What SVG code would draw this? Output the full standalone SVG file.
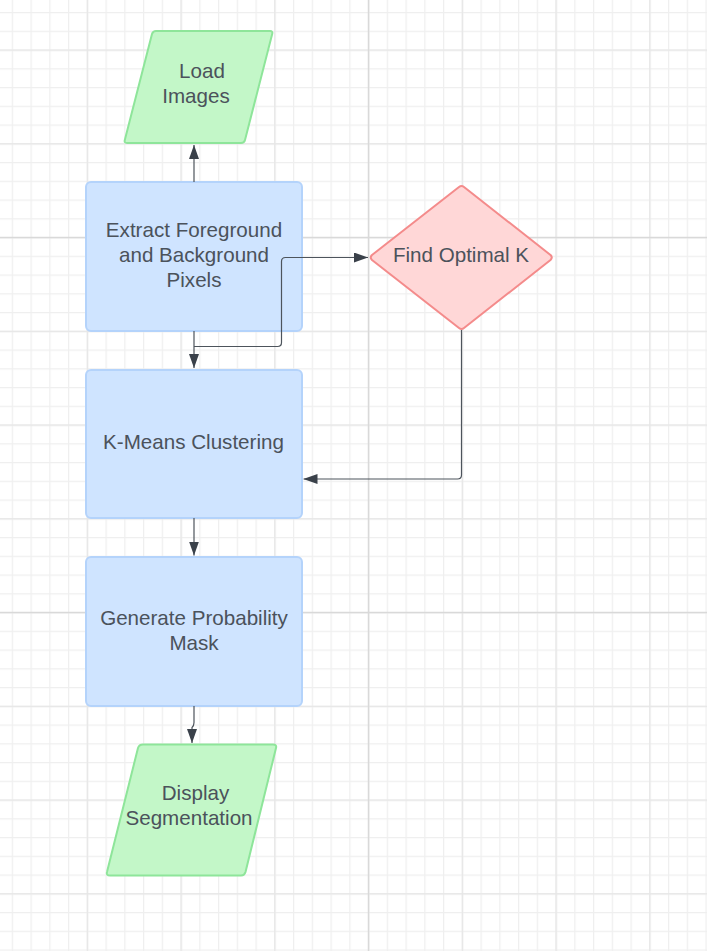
<svg xmlns="http://www.w3.org/2000/svg" width="707" height="951" viewBox="0 0 707 951">
  <style>
    .txt { font-family: "Liberation Sans", Arial, sans-serif; font-size: 20.6px; fill: #4b525b; text-anchor: middle; }
    .proc { fill: #cfe4ff; stroke: #b4d3fb; stroke-width: 2; }
    .io { fill: #c3f7c8; stroke: #8ee59a; stroke-width: 2; stroke-linejoin: round; }
    .dec { fill: #ffd7d7; stroke: #f48b8b; stroke-width: 2; stroke-linejoin: round; }
    .wire { fill: none; stroke: #4d545c; stroke-width: 1.2; }
  </style>
  <defs>
    <pattern id="fine" patternUnits="userSpaceOnUse" x="11.75" y="12" width="18.75" height="18.75">
      <path d="M0.5 0 V18.75 M0 0.5 H18.75" fill="none" stroke="#efefef" stroke-width="1.5"/>
    </pattern>
    <pattern id="medium" patternUnits="userSpaceOnUse" x="86.75" y="49.5" width="93.75" height="93.75">
      <path d="M0.5 0 V93.75 M0 0.5 H93.75" fill="none" stroke="#e6e6e6" stroke-width="1.5"/>
    </pattern>
    <marker id="arrow" viewBox="0 0 14 10" refX="14" refY="5" markerWidth="14" markerHeight="10" markerUnits="userSpaceOnUse" orient="auto">
      <path d="M0 0 L14 5 L0 10 Z" fill="#3a414a"/>
    </marker>
  </defs>

  <!-- background grid -->
  <rect width="707" height="951" fill="#ffffff"/>
  <rect width="707" height="951" fill="url(#fine)"/>
  <rect width="707" height="951" fill="url(#medium)"/>
  <path d="M368.5 0 V951 M0 237.5 H707 M0 612.5 H707" stroke="#d9d9d9" stroke-width="1.5" fill="none"/>

  <!-- Load Images -->
  <g id="load-images">
    <path class="io" d="M156 31 H270 Q273 31 272.2 34 L245 140 Q244.2 143 241 143 H127 Q124 143 124.8 140 L152 34 Q153 31 156 31 Z"/>
    <text class="txt" x="202" y="78">Load</text>
    <text class="txt" x="196" y="103">Images</text>
  </g>

  <!-- Extract Foreground and Background Pixels -->
  <g id="extract-pixels">
    <rect class="proc" x="86" y="182" width="216" height="149" rx="5"/>
    <text class="txt" x="194" y="237">Extract Foreground</text>
    <text class="txt" x="194" y="262">and Background</text>
    <text class="txt" x="194" y="287">Pixels</text>
  </g>

  <!-- Find Optimal K -->
  <g id="find-k">
    <path class="dec" d="M459 187 Q461.5 185 464 187 L550.5 255 Q553 257.5 550.5 260 L464 328 Q461.5 330 459 328 L372 260 Q369.5 257.5 372 255 Z"/>
    <text class="txt" x="461" y="262">Find Optimal K</text>
  </g>

  <!-- K-Means Clustering -->
  <g id="kmeans">
    <rect class="proc" x="86" y="370" width="216" height="148" rx="5"/>
    <text class="txt" x="193.5" y="448.5">K-Means Clustering</text>
  </g>

  <!-- Generate Probability Mask -->
  <g id="prob-mask">
    <rect class="proc" x="86" y="557" width="216" height="149" rx="5"/>
    <text class="txt" x="194" y="625">Generate Probability</text>
    <text class="txt" x="194" y="649.5">Mask</text>
  </g>

  <!-- Display Segmentation -->
  <g id="display-seg">
    <path class="io" d="M143 744.5 H273 Q277 744.5 276 748 L245.5 872 Q244.5 875.5 241 875.5 H110 Q106 875.5 107 872 L138 748 Q139 744.5 143 744.5 Z"/>
    <text class="txt" x="195.5" y="800">Display</text>
    <text class="txt" x="189" y="825">Segmentation</text>
  </g>

  <!-- connectors, drawn over the nodes -->
  <g id="connectors">
    <path class="wire" d="M194 182 V145" marker-end="url(#arrow)"/>
    <path class="wire" d="M194 331 V368" marker-end="url(#arrow)"/>
    <path class="wire" d="M194 346.5 H277.5 Q281.5 346.5 281.5 342.5 V261.5 Q281.5 257.5 285.5 257.5 H368" marker-end="url(#arrow)"/>
    <path class="wire" d="M461.5 330 V475 Q461.5 479 457.5 479 H303.5" marker-end="url(#arrow)"/>
    <path class="wire" d="M194 518 V555.5" marker-end="url(#arrow)"/>
    <path class="wire" d="M194 706 V722.5 Q194 726 192 727.5 V743" marker-end="url(#arrow)"/>
  </g>
</svg>
